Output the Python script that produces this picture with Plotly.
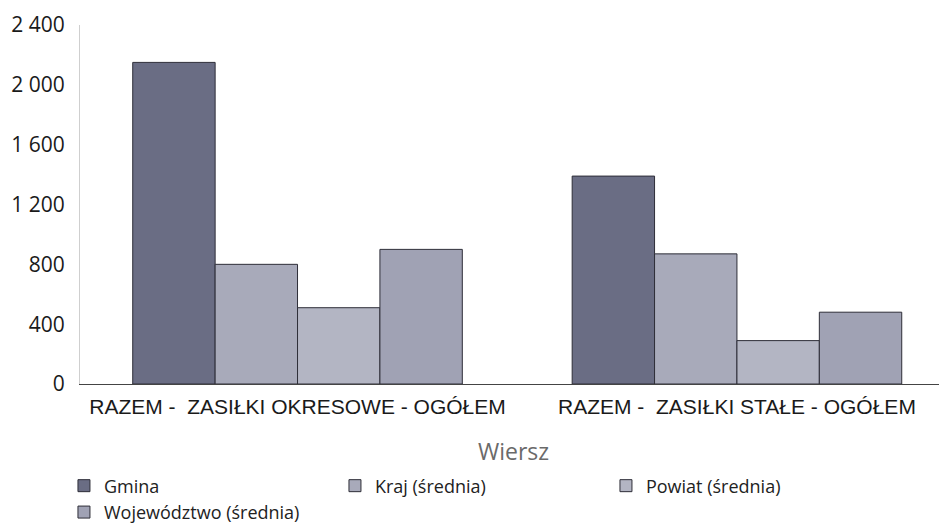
import plotly.graph_objects as go

categories = ["RAZEM -\u00a0 ZASIŁKI OKRESOWE - OGÓŁEM", "RAZEM -\u00a0 ZASIŁKI STAŁE - OGÓŁEM"]
series_names = ["Gmina", "Kraj (średnia)", "Powiat (średnia)", "Województwo (średnia)"]
gmina = [2150, 1390]
kraj = [800, 870]
powiat = [510, 290]
wojewodztwo = [900, 480]
tick_vals = [0, 400, 800, 1200, 1600, 2000, 2400]
tick_text = ["0", "400", "800", "1 200", "1 600", "2 000", "2 400"]

colors = ["#6a6d84", "#a8aaba", "#b3b5c3", "#a0a2b4"]
values = [gmina, kraj, powiat, wojewodztwo]

fig = go.Figure()
for name, vals, col in zip(series_names, values, colors):
    fig.add_trace(go.Bar(
        x=categories, y=vals, name=name,
        marker=dict(color=col, line=dict(color="#2e2e38", width=1)),
    ))

fig.update_layout(
    width=939, height=518,
    margin=dict(l=72, r=0, t=17, b=142, autoexpand=False),
    paper_bgcolor="white", plot_bgcolor="white",
    font=dict(family="Open Sans, Noto Sans, sans-serif", size=18, color="#222222"),
    barmode="group", bargap=0.25, bargroupgap=0,
    showlegend=True,
    legend=dict(orientation="h", xref="container", yref="container",
                x=0.0596, xanchor="left", y=0.113, yanchor="top",
                entrywidth=226, entrywidthmode="pixels",
                font=dict(family="Open Sans, sans-serif", size=18, color="#222222"),
                tracegroupgap=0),
    xaxis=dict(
        showline=True, linecolor="#444444", linewidth=1.2,
        ticks="", showgrid=False, range=[-0.495, 1.478], automargin=False,
        title=dict(text="Wiersz", font=dict(family="Open Sans, sans-serif", size=23, color="#6a6a6a"), standoff=26),
        tickfont=dict(family="Liberation Sans, Arial, sans-serif", size=21, color="#1a1a1a"),
        ticklabelstandoff=4,
    ),
    yaxis=dict(
        range=[0, 2400], tickvals=tick_vals, ticktext=tick_text,
        showline=True, linecolor="#cfcfcf", linewidth=1, automargin=False,
        showgrid=False, zeroline=False, ticks="",
        tickfont=dict(family="Open Sans, sans-serif", size=21, color="#1a1a1a"),
        ticklabelstandoff=10,
    ),
)

fig.write_html("out.html")
